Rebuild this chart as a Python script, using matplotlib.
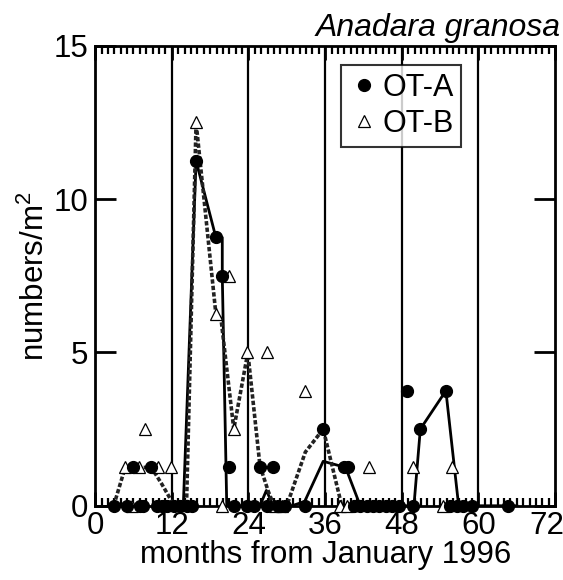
import matplotlib
matplotlib.use("Agg")
import matplotlib.pyplot as plt
from matplotlib.ticker import MultipleLocator

plt.rcParams["font.family"] = ["Liberation Sans", "DejaVu Sans"]
plt.rcParams["mathtext.fontset"] = "custom"
plt.rcParams["mathtext.rm"] = "Liberation Sans"

# OT-A samples (filled circles)
a_month = [3, 5, 5.9, 7, 7.5, 8.8, 9.7, 10.4, 11.2, 12.3,
           13.3, 14.3, 15.1, 15.8, 18.9, 19.8, 20.9, 21.8, 23.7, 24.9,
           25.8, 26.9, 27.8, 28.6, 29.7, 32.8, 35.7, 38.9, 39.6, 40.5,
           41.5, 42.5, 43.5, 44.5, 45.5, 46.5, 47.5, 48.8, 49.8, 50.9,
           54.9, 55.6, 56.6, 57.6, 59, 64.7]
a_val = [0, 0, 1.25, 0, 0, 1.25, 0, 0, 0, 0,
         0, 0, 0, 11.25, 8.75, 7.5, 1.25, 0, 0, 0,
         1.25, 0, 1.25, 0, 0, 0, 2.5, 1.25, 1.25, 0,
         0, 0, 0, 0, 0, 0, 0, 3.75, 0, 2.5,
         3.75, 0, 0, 0, 0, 0]

# OT-B samples (open triangles)
b_month = [4.7, 5.7, 6.9, 7.8, 9.9, 11.9, 15.8, 18.9, 19.8, 21.0,
           21.7, 23.8, 26.9, 28.2, 29.2, 32.9, 38.4, 39.4, 42.8, 49.8,
           54.5, 55.8]
b_val = [1.25, 0, 1.25, 2.5, 1.25, 1.25, 12.5, 6.25, 0, 7.5,
         2.5, 5, 5, 0, 0, 3.75, 0, 0, 1.25, 1.25,
         0, 1.25]

# trend lines
la_month = [13.8, 15.8, 18.9, 19.9, 19.9, 20.6, 25.8, 26.8, 27.9, 30.8,
            32.8, 35.7, 39.2, 41.5, 49.9, 50.9, 54.9, 56.9, 66]
la_val = [0, 11.25, 8.75, 8.75, 7.5, 0, 0, 0.5, 0, 0,
          0.14, 1.45, 1.25, 0, 0, 2.5, 3.75, 0, 0]
lb_month = [2.9, 4.7, 6.0, 8.8, 10.4, 12.0, 13.0, 14.3, 15.8, 18.9,
            19.7, 21.7, 23.9, 25.8, 27.1, 28.0, 30.0, 32.9, 35.7, 38.6]
lb_val = [0, 1.25, 1.25, 1.25, 0.72, 0.14, 0, 0, 12.5, 6.25,
          6.1, 2.5, 5.0, 1.3, 0.47, 0, 0, 1.75, 2.5, 0]

year_lines = [12, 24, 36, 48, 60]
x_ticks = [0, 12, 24, 36, 48, 60, 72]

fig = plt.figure(figsize=(5.63, 5.80), dpi=100)
ax = fig.add_axes([0.169, 0.128, 0.817, 0.793])

for m in year_lines:
    ax.axvline(m, color="black", lw=1.6, zorder=1)

ax.plot(la_month, la_val, color="black", lw=2.0, zorder=2)
ax.plot(lb_month, lb_val, color="#222222", lw=2.6, ls=(0, (1.2, 0.6)), zorder=2)

ax.plot(a_month, a_val, ls="none", marker="o", ms=8.5, mfc="black",
        mec="black", clip_on=False, zorder=4, label="OT-A")
ax.plot(b_month, b_val, ls="none", marker="^", ms=8.5, mfc="white",
        mec="black", mew=0.9, clip_on=False, zorder=3, label="OT-B")

ax.set_xlim(0, 72)
ax.set_ylim(0, 15)
ax.set_xticks(x_ticks)
# last label is drawn by hand, a bit to the left, so it fits in the figure
ax.set_xticklabels([str(t) for t in x_ticks[:-1]] + [""])
ax.xaxis.set_minor_locator(MultipleLocator(1))
ax.yaxis.set_major_locator(MultipleLocator(5))

ax.tick_params(axis="x", which="major", direction="in", top=True, bottom=True,
               length=10, width=2, labelsize=22.5, pad=4)
ax.tick_params(axis="x", which="minor", direction="in", top=True, bottom=True,
               length=6, width=1.6)
ax.tick_params(axis="y", which="major", direction="in", left=True, right=True,
               length=15, width=2, labelsize=22.5, pad=5)

ax.annotate(str(x_ticks[-1]), xy=(x_ticks[-1], 0),
            xycoords=("data", "axes fraction"), xytext=(-6, -4),
            textcoords="offset points", ha="center", va="top", fontsize=22.5)

for s in ax.spines.values():
    s.set_linewidth(2)

ax.set_xlabel("months from January 1996", fontsize=22.5, labelpad=-1)
ax.set_ylabel(r"numbers/m$^2$", fontsize=22.5, labelpad=2)

leg = ax.legend(loc="upper left", bbox_to_anchor=(0.535, 0.958), fontsize=22,
                frameon=True, fancybox=False, handletextpad=0.1,
                handlelength=1.0, borderpad=0.25, labelspacing=0.2,
                borderaxespad=0)
leg.get_frame().set_edgecolor("black")
leg.get_frame().set_linewidth(1.5)

fig.text(0.995, 0.952, "Anadara granosa", fontsize=23, style="italic",
         ha="right", va="center")

fig.savefig("out.png", dpi=100)
